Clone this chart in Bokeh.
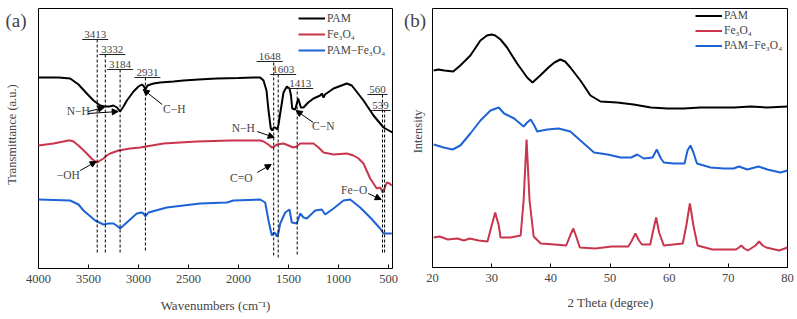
import math
from bokeh.plotting import figure
from bokeh.models import Range1d, Label, Arrow, NormalHead, Legend, LegendItem, FixedTicker, ColumnDataSource
from bokeh.layouts import row
from bokeh.embed import file_html
from bokeh.resources import INLINE

FONT = "Liberation Serif"
BLACK = "#000000"
RED = "#C8354D"
BLUE = "#1E63D6"

# ---------------- FTIR data (panel a), offset transmittance (a.u.) ----------------
pam_wn = [4000, 3800, 3683, 3600, 3517, 3450, 3383, 3340, 3290, 3250,
          3215, 3184, 3150, 3116, 3050, 3000, 2965, 2945, 2931, 2910,
          2850, 2783, 2650, 2550, 2400, 2217, 2000, 1850, 1783, 1750,
          1720, 1700, 1677, 1660, 1648, 1633, 1610, 1600, 1583, 1550,
          1517, 1490, 1475, 1463, 1433, 1403, 1376, 1350, 1303, 1250,
          1183, 1167, 1150, 1135, 1050, 917, 867, 750, 650, 550, 460]
pam_t = [191, 191, 190, 184, 175, 168, 163, 162, 162, 163,
         161, 157, 162, 168, 177, 182, 184, 182, 179, 183,
         185, 186, 187, 188, 189, 190, 190.5, 191, 191, 188,
         178, 158, 140, 138, 141, 141, 139, 144, 155, 176,
         182, 180, 173, 160, 159, 170, 161, 161, 166, 170,
         173, 175, 171, 174, 180, 185, 183, 168, 153, 141, 136]

fe_wn = [4000, 3850, 3700, 3683, 3650, 3600, 3517, 3470, 3433, 3413,
         3383, 3350, 3317, 3283, 3200, 3083, 2983, 2750, 2417, 2083,
         1783, 1750, 1717, 1690, 1667, 1640, 1617, 1550, 1500, 1450,
         1420, 1383, 1300, 1250, 1200, 1150, 1050, 917, 850, 800,
         750, 683, 617, 583, 557, 540, 517, 490, 467]
fe_t = [123, 125, 128, 128, 127, 123, 115, 110, 107, 106,
        108, 110, 113, 115, 118, 120, 121, 125, 127, 128,
        128, 127, 125, 123, 121, 122, 124, 125, 123, 121,
        122, 125, 125, 125, 121, 116, 114, 115, 113, 110,
        105, 90, 80, 81, 76, 80, 86, 85, 83]

pf_wn = [4000, 3683, 3600, 3550, 3433, 3350, 3300, 3250, 3220, 3183,
         3150, 3117, 3017, 2970, 2950, 2931, 2900, 2717, 2383, 2117,
         2050, 1783, 1733, 1700, 1667, 1645, 1630, 1617, 1600, 1583,
         1533, 1490, 1467, 1417, 1383, 1350, 1317, 1233, 1167, 1133,
         1050, 950, 883, 783, 683, 583, 550, 467]
pf_t = [69, 68, 64, 58, 48, 44, 45, 45, 43, 40,
        43, 46, 55, 56, 55, 52, 56, 61, 65, 66,
        68, 69, 66, 48, 33, 36, 35, 32, 36, 45,
        56, 59, 46, 45, 55, 51, 50, 58, 59, 54,
        60, 68, 69, 61, 51, 40, 35, 35]

ftir_ticks = [4000, 3500, 3000, 2500, 2000, 1500, 1000, 500]
FTIR_HI, FTIR_LO = 4000, 460      # plotted wavenumber window
FTIR_T_TOP = 260                  # top of the transmittance window

# band markers: wavenumber, label level (a.u.), bottom of dashed line (a.u.)
band_wn = [3413, 3332, 3184, 2931, 1648, 1603, 1413, 560, 539]
band_top = [229, 214, 199, 191, 207, 194, 180, 174, 158]
band_bottom = [16, 16, 16, 18, 13, 11, 14, 16, 16]
band_shift = [-2, 7, 0, 2, -4, 5, 3, -5, -4]   # label centre offset (px)

# group labels: text (None = shared with previous), text position, arrow tail, arrow head
groups = [
    ("N\u2212H", (3603, 158), (3503, 157), (3343, 161)),
    (None, (3603, 158), (3503, 155), (3203, 157)),
    ("C\u2212H", (2643, 160), (2763, 164), (2953, 179)),
    ("N\u2212H", (1953, 141), (1813, 137), (1643, 131)),
    ("C\u2212N", (1153, 143), (1253, 146), (1423, 158)),
    ("\u2212OH", (3703, 94), (3583, 98), (3423, 107)),
    ("C=O", (1973, 91), (1813, 96), (1673, 104)),
    ("Fe\u2212O", (843, 79), (703, 75), (573, 69)),
]

# ---------------- XRD data (panel b) ----------------
pamx_2t = [20.2, 21.0, 22.0, 23.5, 24.7, 26.4, 28.1, 29.2, 30.0, 30.6,
           31.5, 32.6, 34.3, 36.0, 36.9, 38.2, 39.6, 40.6, 41.6, 42.4,
           43.3, 45.0, 46.7, 48.4, 51.2, 54.0, 56.9, 59.7, 62.5, 65.3,
           68.2, 71.0, 73.8, 76.6, 80.0]
pamx_i = [197, 198, 197, 196, 202, 212, 227, 232, 233, 232,
          228, 220, 204, 190, 185, 192, 200, 205, 208, 206,
          200, 187, 172, 166, 165, 163, 160, 159, 159, 160,
          160, 160, 161, 160, 161]

fex_2t = [20.2, 21.2, 22.6, 24.2, 25.3, 26.3, 27.8, 29.3, 30.0, 30.6,
          31.2, 31.5, 33.2, 34.9, 35.4, 35.9, 36.4, 37.1, 38.3, 40.6,
          42.6, 43.2, 43.8, 44.4, 44.9, 47.5, 50.3, 53.1, 53.7, 54.3,
          54.9, 55.4, 56.8, 57.3, 57.8, 58.3, 59.1, 62.3, 62.9, 63.5,
          64.1, 64.8, 67.3, 71.3, 71.8, 72.2, 72.7, 73.3, 74.6, 75.2,
          75.8, 76.4, 78.6, 80.0]
fex_i = [30, 31, 28, 29, 27, 29, 27, 26, 42, 55,
         42, 30, 30, 32, 67, 128, 67, 31, 24, 23,
         22, 31, 39, 29, 20, 19, 21, 21, 27, 34,
         27, 23, 23, 37, 50, 35, 22, 24, 42, 64,
         42, 22, 18, 18, 20, 22, 19, 17, 22, 26,
         22, 20, 17, 20]

pfx_2t = [20.2, 21.9, 23.4, 24.7, 26.4, 28.1, 29.8, 31.2, 32.1, 33.8,
          35.4, 36.0, 36.6, 37.2, 37.7, 39.4, 41.3, 43.3, 45.0, 47.3,
          49.6, 51.8, 53.6, 54.6, 55.7, 57.2, 57.9, 58.6, 59.1, 60.8,
          62.6, 63.1, 63.6, 64.1, 64.7, 67.0, 69.2, 70.9, 71.8, 73.2,
          75.1, 76.6, 78.8, 80.0]
pfx_i = [123, 120, 118, 122, 134, 147, 157, 160, 154, 149,
         141, 145, 148, 142, 136, 138, 139, 136, 127, 115,
         113, 110, 110, 113, 109, 110, 118, 109, 105, 104,
         104, 117, 122, 115, 104, 100, 99, 99, 101, 98,
         101, 98, 95, 97]

xrd_ticks = [20, 30, 40, 50, 60, 70, 80]
XRD_LO, XRD_HI = 20, 80
XRD_I_TOP = 259

series_names = ["PAM", "Fe\u2083O\u2084", "PAM\u2212Fe\u2083O\u2084"]
series_colors = [BLACK, RED, BLUE]

H = 319  # figure height (px)


def make_panel(width, L, R, T, B, xlo, xhi, ytop, reverse):
    """Figure whose frame fills the canvas; the axis box (L..R, T..B px) is drawn inside it."""
    upx = (xhi - xlo) / (R - L)            # data units per px
    if reverse:
        x0 = xhi + L * upx
        x1 = xhi - (width - L) * upx
    else:
        x0 = xlo - L * upx
        x1 = xlo + (width - L) * upx
    ypx = ytop / (B - T)
    y0 = -(H - B) * ypx
    y1 = ytop + T * ypx
    p = figure(width=width, height=H, x_range=Range1d(x0, x1), y_range=Range1d(y0, y1),
               output_backend="svg", toolbar_location=None, y_axis_location=None,
               min_border=0, min_border_left=0, min_border_right=0,
               min_border_top=0, min_border_bottom=0)
    p.grid.visible = False
    p.outline_line_color = None
    p.background_fill_color = "white"
    p.border_fill_color = "white"
    xa = p.xaxis[0]
    xa.fixed_location = 0
    xa.axis_line_color = None
    xa.major_label_text_font = FONT
    xa.major_label_text_font_size = "12.5px"
    xa.major_label_standoff = 6
    xa.major_tick_in = 4
    xa.major_tick_out = 0
    xa.major_tick_line_color = "black"
    xa.minor_tick_line_color = None
    # axis box
    p.quad(left=[xlo], right=[xhi], bottom=[0], top=[ytop], fill_color=None,
           line_color="black", line_width=1)
    return p


def screen_label(p, text, x, y, size, align="center", angle=0.0):
    p.add_layout(Label(x=x, y=y, x_units="screen", y_units="screen", text=text,
                       text_font=FONT, text_font_size=size, text_align=align,
                       text_baseline="middle", angle=angle))


def add_legend(p, renderers, x, y, row_h):
    items = [LegendItem(label=n, renderers=[r]) for n, r in zip(series_names, renderers)]
    lg = Legend(items=items, location=(x, y), padding=0, margin=0, spacing=0,
                glyph_width=27, glyph_height=row_h, label_height=row_h,
                label_standoff=2, border_line_color=None, background_fill_alpha=0,
                label_text_font=FONT, label_text_font_size="11.5px")
    p.add_layout(lg)


# ---------------- Panel (a) ----------------
pa = make_panel(403, 38, 392, 8, 268, FTIR_LO, FTIR_HI, FTIR_T_TOP, reverse=True)
pa.xaxis[0].ticker = FixedTicker(ticks=ftir_ticks)

ra = []
for xs, ys, c in [(pam_wn, pam_t, BLACK), (fe_wn, fe_t, RED), (pf_wn, pf_t, BLUE)]:
    ra.append(pa.line(xs, ys, line_color=c, line_width=2))
add_legend(pa, ra, 298, 261, 16)

src = ColumnDataSource(dict(x=band_wn, y0=band_bottom, y1=band_top))
pa.segment(x0="x", y0="y0", x1="x", y1="y1", source=src, line_color="black",
           line_width=1, line_dash="3 2")
for w, top, sh in zip(band_wn, band_top, band_shift):
    c = w - sh * 10
    half = 130 if w >= 1000 else 100
    pa.segment(x0=[c + half], y0=[top], x1=[c - half], y1=[top], line_color="#222222", line_width=1)
    pa.add_layout(Label(x=c, y=top + 1.5, text=str(w), text_font=FONT, text_font_size="11px",
                        text_align="center", text_baseline="bottom"))

for txt, (tx, ty), (ax0, ay0), (ax1, ay1) in groups:
    if txt is not None:
        pa.add_layout(Label(x=tx, y=ty, text=txt, text_font=FONT, text_font_size="11.5px",
                            text_align="center", text_baseline="middle"))
    pa.add_layout(Arrow(x_start=ax0, y_start=ay0, x_end=ax1, y_end=ay1, line_width=1,
                        end=NormalHead(size=6, fill_color="black", line_color="black")))

screen_label(pa, "(a)", 5, 299, "19px", align="left")
screen_label(pa, "Transmittance (a.u.)", 11.5, 185, "12.5px", angle=math.pi / 2)
screen_label(pa, "Wavenumbers (cm\u207b\u00b9)", 215, 14, "13px")

# ---------------- Panel (b) ----------------
pb = make_panel(394, 29, 384, 8, 267, XRD_LO, XRD_HI, XRD_I_TOP, reverse=False)
pb.xaxis[0].ticker = FixedTicker(ticks=xrd_ticks)

rb = []
for xs, ys, c in [(pamx_2t, pamx_i, BLACK), (fex_2t, fex_i, RED), (pfx_2t, pfx_i, BLUE)]:
    rb.append(pb.line(xs, ys, line_color=c, line_width=2))
add_legend(pb, rb, 292, 266.5, 15)

screen_label(pb, "(b)", 0.5, 299, "19px", align="left")
screen_label(pb, "Intensity", 14.5, 188, "12.5px", angle=math.pi / 2)
screen_label(pb, "2 Theta (degree)", 207, 17, "13px")

layout = row(pa, pb)
open("out.html", "w").write(file_html(layout, INLINE))
